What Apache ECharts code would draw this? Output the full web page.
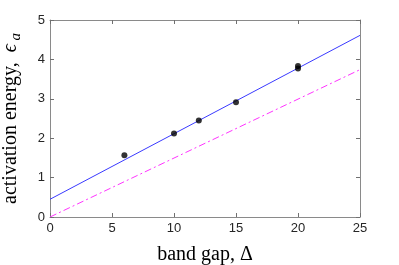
<!DOCTYPE html>
<html><head><meta charset="utf-8">
<script src="https://cdn.jsdelivr.net/npm/echarts@6/dist/echarts.min.js"></script>
<style>html,body{margin:0;padding:0;background:#fff}#c{width:399px;height:265px}</style>
</head><body><div id="c"></div>
<script>
const xTicks = [0, 5, 10, 15, 20, 25];
const yTicks = [0, 1, 2, 3, 4, 5];
const pointsX = [6, 10, 12, 15, 20, 20];
const pointsY = [1.57, 2.12, 2.45, 2.91, 3.77, 3.83];
const fitX = [0, 25];
const fitY = [0.45, 4.61];
const modelX = [0, 25];
const modelY = [0, 3.74];

const chart = echarts.init(document.getElementById('c'), null, {renderer: 'canvas'});
const axisCol = '#8a8a8a';
const labCol = '#262626';
const labFont = 'Liberation Sans, Arial, sans-serif';
const serif = 'Liberation Serif, Times New Roman, serif';
function mkAxis(pos, ticks, showLabel, extra) {
  return Object.assign({
    type: 'value', position: pos,
    min: ticks[0], max: ticks[ticks.length - 1], interval: ticks[1] - ticks[0],
    axisLine: {show: true, onZero: false, lineStyle: {color: axisCol, width: 1}},
    axisTick: {show: true, inside: true, length: 4, lineStyle: {color: '#707070', width: 1}},
    splitLine: {show: false},
    axisLabel: showLabel ? {color: labCol, fontSize: 13, fontFamily: labFont, margin: 5} : {show: false}
  }, extra || {});
}
const option = {
  animation: false,
  backgroundColor: '#fff',
  grid: {left: 50, right: 39, top: 20, bottom: 48, containLabel: false, outerBoundsMode: 'none'},
  xAxis: [
    mkAxis('bottom', xTicks, true, {
      name: 'band gap, Δ', nameLocation: 'middle', nameGap: 28,
      nameTextStyle: {fontFamily: serif, fontSize: 20, color: '#000'}
    }),
    mkAxis('top', xTicks, false)
  ],
  yAxis: [
    mkAxis('left', yTicks, true, {
      name: '{n|activation energy,  }{e|ϵ}{s| a}', nameLocation: 'middle', nameGap: 26, nameRotate: 90,
      nameTextStyle: {
        fontFamily: serif, fontSize: 20, color: '#000',
        rich: {
          n: {fontFamily: serif, fontSize: 20, color: '#000'},
          e: {fontFamily: serif, fontSize: 20, fontStyle: 'italic', color: '#000'},
          s: {fontFamily: serif, fontSize: 15, fontStyle: 'italic', color: '#000', padding: [12, 0, 0, 0]}
        }
      }
    }),
    mkAxis('right', yTicks, false)
  ],
  series: [
    {
      type: 'line', data: fitX.map((x, i) => [x, fitY[i]]), showSymbol: false, symbol: 'none',
      lineStyle: {color: '#3a3aff', width: 1}, z: 2
    },
    {
      type: 'line', data: modelX.map((x, i) => [x, modelY[i]]), showSymbol: false, symbol: 'none',
      lineStyle: {color: '#ff33ff', width: 1, type: [7, 3, 2, 3]}, z: 2
    },
    {
      type: 'scatter', data: pointsX.map((x, i) => [x, pointsY[i]]), symbol: 'circle', symbolSize: 6,
      itemStyle: {color: '#000'}, z: 3
    }
  ]
};
chart.setOption(option);
</script></body></html>
